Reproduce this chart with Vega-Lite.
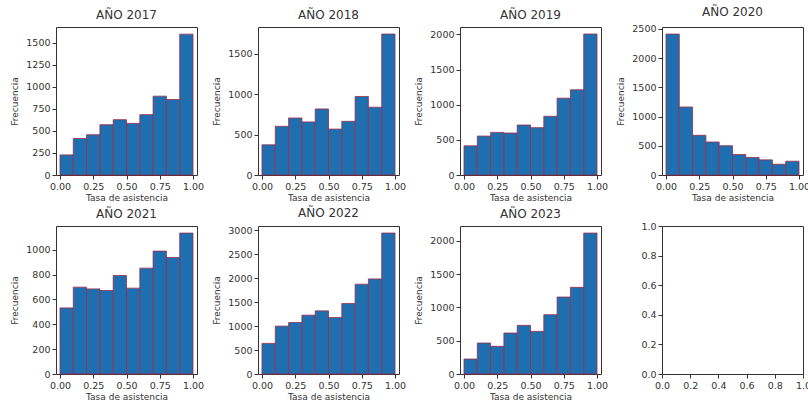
{
  "$schema": "https://vega.github.io/schema/vega-lite/v6.json",
  "background": "white",
  "padding": {"left": 10, "top": 5, "right": 0, "bottom": 0},
  "columns": 4,
  "spacing": {"row": 3, "column": 7},
  "datasets": {
    "hist": [
      {"year": 2017, "bin_start": 0.0, "bin_end": 0.1, "count": 228},
      {"year": 2017, "bin_start": 0.1, "bin_end": 0.2, "count": 415},
      {"year": 2017, "bin_start": 0.2, "bin_end": 0.3, "count": 457},
      {"year": 2017, "bin_start": 0.3, "bin_end": 0.4, "count": 571},
      {"year": 2017, "bin_start": 0.4, "bin_end": 0.5, "count": 628},
      {"year": 2017, "bin_start": 0.5, "bin_end": 0.6, "count": 586},
      {"year": 2017, "bin_start": 0.6, "bin_end": 0.7, "count": 685},
      {"year": 2017, "bin_start": 0.7, "bin_end": 0.8, "count": 895},
      {"year": 2017, "bin_start": 0.8, "bin_end": 0.9, "count": 857},
      {"year": 2017, "bin_start": 0.9, "bin_end": 1.0, "count": 1599},
      {"year": 2018, "bin_start": 0.0, "bin_end": 0.1, "count": 373},
      {"year": 2018, "bin_start": 0.1, "bin_end": 0.2, "count": 602},
      {"year": 2018, "bin_start": 0.2, "bin_end": 0.3, "count": 705},
      {"year": 2018, "bin_start": 0.3, "bin_end": 0.4, "count": 656},
      {"year": 2018, "bin_start": 0.4, "bin_end": 0.5, "count": 817},
      {"year": 2018, "bin_start": 0.5, "bin_end": 0.6, "count": 568},
      {"year": 2018, "bin_start": 0.6, "bin_end": 0.7, "count": 664},
      {"year": 2018, "bin_start": 0.7, "bin_end": 0.8, "count": 971},
      {"year": 2018, "bin_start": 0.8, "bin_end": 0.9, "count": 838},
      {"year": 2018, "bin_start": 0.9, "bin_end": 1.0, "count": 1743},
      {"year": 2019, "bin_start": 0.0, "bin_end": 0.1, "count": 415},
      {"year": 2019, "bin_start": 0.1, "bin_end": 0.2, "count": 554},
      {"year": 2019, "bin_start": 0.2, "bin_end": 0.3, "count": 606},
      {"year": 2019, "bin_start": 0.3, "bin_end": 0.4, "count": 597},
      {"year": 2019, "bin_start": 0.4, "bin_end": 0.5, "count": 711},
      {"year": 2019, "bin_start": 0.5, "bin_end": 0.6, "count": 673},
      {"year": 2019, "bin_start": 0.6, "bin_end": 0.7, "count": 835},
      {"year": 2019, "bin_start": 0.7, "bin_end": 0.8, "count": 1093},
      {"year": 2019, "bin_start": 0.8, "bin_end": 0.9, "count": 1212},
      {"year": 2019, "bin_start": 0.9, "bin_end": 1.0, "count": 2005},
      {"year": 2020, "bin_start": 0.0, "bin_end": 0.1, "count": 2413},
      {"year": 2020, "bin_start": 0.1, "bin_end": 0.2, "count": 1164},
      {"year": 2020, "bin_start": 0.2, "bin_end": 0.3, "count": 680},
      {"year": 2020, "bin_start": 0.3, "bin_end": 0.4, "count": 565},
      {"year": 2020, "bin_start": 0.4, "bin_end": 0.5, "count": 501},
      {"year": 2020, "bin_start": 0.5, "bin_end": 0.6, "count": 351},
      {"year": 2020, "bin_start": 0.6, "bin_end": 0.7, "count": 300},
      {"year": 2020, "bin_start": 0.7, "bin_end": 0.8, "count": 259},
      {"year": 2020, "bin_start": 0.8, "bin_end": 0.9, "count": 184},
      {"year": 2020, "bin_start": 0.9, "bin_end": 1.0, "count": 236},
      {"year": 2021, "bin_start": 0.0, "bin_end": 0.1, "count": 532},
      {"year": 2021, "bin_start": 0.1, "bin_end": 0.2, "count": 699},
      {"year": 2021, "bin_start": 0.2, "bin_end": 0.3, "count": 685},
      {"year": 2021, "bin_start": 0.3, "bin_end": 0.4, "count": 672},
      {"year": 2021, "bin_start": 0.4, "bin_end": 0.5, "count": 793},
      {"year": 2021, "bin_start": 0.5, "bin_end": 0.6, "count": 691},
      {"year": 2021, "bin_start": 0.6, "bin_end": 0.7, "count": 852},
      {"year": 2021, "bin_start": 0.7, "bin_end": 0.8, "count": 989},
      {"year": 2021, "bin_start": 0.8, "bin_end": 0.9, "count": 938},
      {"year": 2021, "bin_start": 0.9, "bin_end": 1.0, "count": 1134},
      {"year": 2022, "bin_start": 0.0, "bin_end": 0.1, "count": 639},
      {"year": 2022, "bin_start": 0.1, "bin_end": 0.2, "count": 1000},
      {"year": 2022, "bin_start": 0.2, "bin_end": 0.3, "count": 1076},
      {"year": 2022, "bin_start": 0.3, "bin_end": 0.4, "count": 1229},
      {"year": 2022, "bin_start": 0.4, "bin_end": 0.5, "count": 1319},
      {"year": 2022, "bin_start": 0.5, "bin_end": 0.6, "count": 1181},
      {"year": 2022, "bin_start": 0.6, "bin_end": 0.7, "count": 1472},
      {"year": 2022, "bin_start": 0.7, "bin_end": 0.8, "count": 1875},
      {"year": 2022, "bin_start": 0.8, "bin_end": 0.9, "count": 1986},
      {"year": 2022, "bin_start": 0.9, "bin_end": 1.0, "count": 2944},
      {"year": 2023, "bin_start": 0.0, "bin_end": 0.1, "count": 225},
      {"year": 2023, "bin_start": 0.1, "bin_end": 0.2, "count": 465},
      {"year": 2023, "bin_start": 0.2, "bin_end": 0.3, "count": 415},
      {"year": 2023, "bin_start": 0.3, "bin_end": 0.4, "count": 615},
      {"year": 2023, "bin_start": 0.4, "bin_end": 0.5, "count": 730},
      {"year": 2023, "bin_start": 0.5, "bin_end": 0.6, "count": 640},
      {"year": 2023, "bin_start": 0.6, "bin_end": 0.7, "count": 890},
      {"year": 2023, "bin_start": 0.7, "bin_end": 0.8, "count": 1155},
      {"year": 2023, "bin_start": 0.8, "bin_end": 0.9, "count": 1300},
      {"year": 2023, "bin_start": 0.9, "bin_end": 1.0, "count": 2115}
    ],
    "empty": [{"x": 0, "y": 0}]
  },
  "concat": [
    {
      "title": {"text": "AÑO 2017"},
      "width": 141, "height": 148,
      "data": {"name": "hist"}, "transform": [{"filter": "datum.year == 2017"}],
      "mark": {"type": "rect", "fill": "#1f6fb0", "stroke": "#9b2c4a", "strokeWidth": 0.8},
      "encoding": {
        "x": {"field": "bin_start", "type": "quantitative", "title": "Tasa de asistencia", "scale": {"domain": [-0.03, 1.03], "nice": false, "zero": false}, "axis": {"values": [0, 0.25, 0.5, 0.75, 1], "format": ".2f"}},
        "x2": {"field": "bin_end"},
        "y": {"field": "count", "type": "quantitative", "title": "Frecuencia", "scale": {"domain": [0, 1680], "nice": false}, "axis": {"values": [0, 250, 500, 750, 1000, 1250, 1500], "format": "d"}},
        "y2": {"datum": 0}
      }
    },
    {
      "title": {"text": "AÑO 2018"},
      "width": 141, "height": 148,
      "data": {"name": "hist"}, "transform": [{"filter": "datum.year == 2018"}],
      "mark": {"type": "rect", "fill": "#1f6fb0", "stroke": "#9b2c4a", "strokeWidth": 0.8},
      "encoding": {
        "x": {"field": "bin_start", "type": "quantitative", "title": "Tasa de asistencia", "scale": {"domain": [-0.03, 1.03], "nice": false, "zero": false}, "axis": {"values": [0, 0.25, 0.5, 0.75, 1], "format": ".2f"}},
        "x2": {"field": "bin_end"},
        "y": {"field": "count", "type": "quantitative", "title": "Frecuencia", "scale": {"domain": [0, 1830], "nice": false}, "axis": {"values": [0, 500, 1000, 1500], "format": "d"}},
        "y2": {"datum": 0}
      }
    },
    {
      "title": {"text": "AÑO 2019"},
      "width": 141, "height": 148,
      "data": {"name": "hist"}, "transform": [{"filter": "datum.year == 2019"}],
      "mark": {"type": "rect", "fill": "#1f6fb0", "stroke": "#9b2c4a", "strokeWidth": 0.8},
      "encoding": {
        "x": {"field": "bin_start", "type": "quantitative", "title": "Tasa de asistencia", "scale": {"domain": [-0.03, 1.03], "nice": false, "zero": false}, "axis": {"values": [0, 0.25, 0.5, 0.75, 1], "format": ".2f"}},
        "x2": {"field": "bin_end"},
        "y": {"field": "count", "type": "quantitative", "title": "Frecuencia", "scale": {"domain": [0, 2105], "nice": false}, "axis": {"values": [0, 500, 1000, 1500, 2000], "format": "d"}},
        "y2": {"datum": 0}
      }
    },
    {
      "title": {"text": "AÑO 2020"},
      "width": 141, "height": 148,
      "data": {"name": "hist"}, "transform": [{"filter": "datum.year == 2020"}],
      "mark": {"type": "rect", "fill": "#1f6fb0", "stroke": "#9b2c4a", "strokeWidth": 0.8},
      "encoding": {
        "x": {"field": "bin_start", "type": "quantitative", "title": "Tasa de asistencia", "scale": {"domain": [-0.03, 1.03], "nice": false, "zero": false}, "axis": {"values": [0, 0.25, 0.5, 0.75, 1], "format": ".2f"}},
        "x2": {"field": "bin_end"},
        "y": {"field": "count", "type": "quantitative", "title": "Frecuencia", "scale": {"domain": [0, 2534], "nice": false}, "axis": {"values": [0, 500, 1000, 1500, 2000, 2500], "format": "d"}},
        "y2": {"datum": 0}
      }
    },
    {
      "title": {"text": "AÑO 2021"},
      "width": 141, "height": 148,
      "data": {"name": "hist"}, "transform": [{"filter": "datum.year == 2021"}],
      "mark": {"type": "rect", "fill": "#1f6fb0", "stroke": "#9b2c4a", "strokeWidth": 0.8},
      "encoding": {
        "x": {"field": "bin_start", "type": "quantitative", "title": "Tasa de asistencia", "scale": {"domain": [-0.03, 1.03], "nice": false, "zero": false}, "axis": {"values": [0, 0.25, 0.5, 0.75, 1], "format": ".2f"}},
        "x2": {"field": "bin_end"},
        "y": {"field": "count", "type": "quantitative", "title": "Frecuencia", "scale": {"domain": [0, 1191], "nice": false}, "axis": {"values": [0, 200, 400, 600, 800, 1000], "format": "d"}},
        "y2": {"datum": 0}
      }
    },
    {
      "title": {"text": "AÑO 2022"},
      "width": 141, "height": 148,
      "data": {"name": "hist"}, "transform": [{"filter": "datum.year == 2022"}],
      "mark": {"type": "rect", "fill": "#1f6fb0", "stroke": "#9b2c4a", "strokeWidth": 0.8},
      "encoding": {
        "x": {"field": "bin_start", "type": "quantitative", "title": "Tasa de asistencia", "scale": {"domain": [-0.03, 1.03], "nice": false, "zero": false}, "axis": {"values": [0, 0.25, 0.5, 0.75, 1], "format": ".2f"}},
        "x2": {"field": "bin_end"},
        "y": {"field": "count", "type": "quantitative", "title": "Frecuencia", "scale": {"domain": [0, 3091], "nice": false}, "axis": {"values": [0, 500, 1000, 1500, 2000, 2500, 3000], "format": "d"}},
        "y2": {"datum": 0}
      }
    },
    {
      "title": {"text": "AÑO 2023"},
      "width": 141, "height": 148,
      "data": {"name": "hist"}, "transform": [{"filter": "datum.year == 2023"}],
      "mark": {"type": "rect", "fill": "#1f6fb0", "stroke": "#9b2c4a", "strokeWidth": 0.8},
      "encoding": {
        "x": {"field": "bin_start", "type": "quantitative", "title": "Tasa de asistencia", "scale": {"domain": [-0.03, 1.03], "nice": false, "zero": false}, "axis": {"values": [0, 0.25, 0.5, 0.75, 1], "format": ".2f"}},
        "x2": {"field": "bin_end"},
        "y": {"field": "count", "type": "quantitative", "title": "Frecuencia", "scale": {"domain": [0, 2221], "nice": false}, "axis": {"values": [0, 500, 1000, 1500, 2000], "format": "d"}},
        "y2": {"datum": 0}
      }
    },
    {
      "width": 141, "height": 148,
      "data": {"name": "empty"},
      "mark": {"type": "point", "opacity": 0},
      "encoding": {
        "x": {"field": "x", "type": "quantitative", "title": null, "scale": {"domain": [0, 1], "nice": false}, "axis": {"values": [0, 0.2, 0.4, 0.6, 0.8, 1], "format": ".1f"}},
        "y": {"field": "y", "type": "quantitative", "title": null, "scale": {"domain": [0, 1], "nice": false}, "axis": {"values": [0, 0.2, 0.4, 0.6, 0.8, 1], "format": ".1f"}}
      }
    }
  ],
  "config": {
    "font": "DejaVu Sans",
    "view": {"stroke": "#333333", "strokeWidth": 1},
    "title": {"fontSize": 12, "fontWeight": "normal", "color": "#333333", "offset": 5, "font": "DejaVu Sans"},
    "style": {"group-title": {"fontSize": 12, "fontWeight": "normal", "font": "DejaVu Sans", "fill": "#333333"}},
    "axis": {
      "grid": false,
      "domain": false,
      "labelFont": "DejaVu Sans",
      "titleFont": "DejaVu Sans",
      "labelFontSize": 9.5,
      "titleFontSize": 9,
      "titleFontWeight": "normal",
      "labelColor": "#333333",
      "titleColor": "#333333",
      "tickColor": "#333333",
      "tickSize": 4,
      "labelPadding": 2,
      "titlePadding": 6,
      "labelFlush": false,
      "labelOverlap": false
    },
    "axisX": {"titlePadding": 3}
  }
}
